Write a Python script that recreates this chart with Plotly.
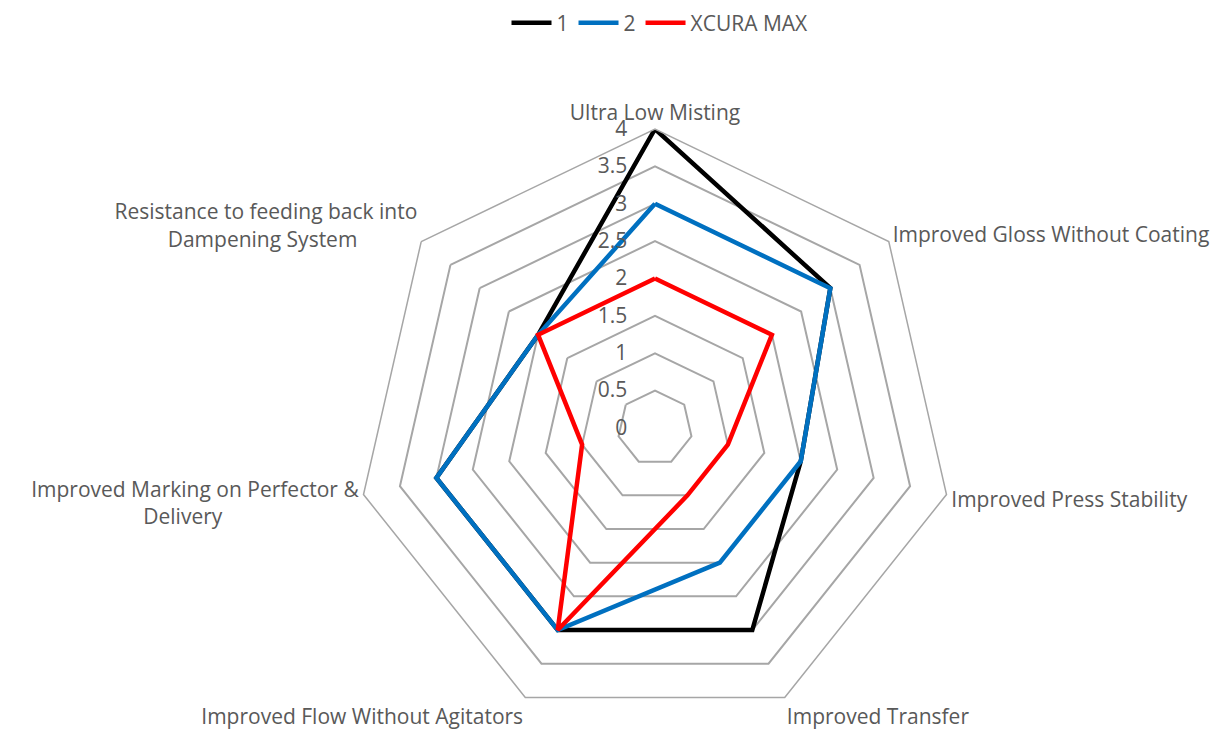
import plotly.graph_objects as go

NB = "\u00a0"
categories = [
    "Ultra Low Misting",
    "Improved Gloss Without Coating",
    "Improved Press Stability",
    "Improved Transfer",
    "Improved Flow Without Agitators",
    "Improved Marking on Perfector &<br>Delivery" + NB * 25,
    "Resistance to feeding back into<br>Dampening System" + NB * 11,
]
series_names = ["1", "2", "XCURA MAX"]
values_1 = [4, 3, 2, 3, 3, 3, 2]
values_2 = [3, 3, 2, 2, 3, 3, 2]
values_xcura = [2, 2, 1, 1, 3, 1, 2]
colors = ["#000000", "#0070C0", "#FF0000"]
radial_ticks = [0, 0.5, 1, 1.5, 2, 2.5, 3, 3.5, 4]

FONT = "Open Sans"
FS = 21
TXT = "#595959"
GRID = "#A6A6A6"

fig = go.Figure()
for name, vals, col in zip(series_names, [values_1, values_2, values_xcura], colors):
    fig.add_trace(go.Scatterpolar(
        r=vals + vals[:1],
        theta=categories + categories[:1],
        mode="lines",
        name=name,
        line=dict(color=col, width=4.5),
    ))

# page has an 8px body margin; positions below are in figure pixels
W, H = 1232, 729
OFF = 8
cx, cy, R = 655 - OFF, 428 - OFF, 299
fig.update_layout(
    width=W, height=H,
    margin=dict(l=0, r=0, t=0, b=0, autoexpand=False),
    paper_bgcolor="white",
    plot_bgcolor="white",
    font=dict(family=FONT, size=FS, color=TXT),
    showlegend=True,
    legend=dict(orientation="h", x=(660 - OFF) / W, xanchor="center",
                y=1 - (23 - OFF) / H, yanchor="middle",
                font=dict(family=FONT, size=FS, color=TXT), itemwidth=40),
    polar=dict(
        domain=dict(x=[(cx - R) / W, (cx + R) / W], y=[(H - cy - R) / H, (H - cy + R) / H]),
        gridshape="linear",
        bgcolor="white",
        radialaxis=dict(
            range=[0, 4], tickvals=radial_ticks, ticktext=[f"{t:g}" for t in radial_ticks],
            angle=90, side="counterclockwise", tickangle=90,
            showline=False, ticks="outside", ticklen=20, tickcolor="rgba(0,0,0,0)",
            gridcolor=GRID, gridwidth=1.5,
            tickfont=dict(family=FONT, size=FS, color=TXT),
        ),
        angularaxis=dict(
            direction="clockwise", rotation=90,
            showgrid=False, showline=True, linecolor=GRID, linewidth=1.5,
            ticks="", tickfont=dict(family=FONT, size=FS, color=TXT),
        ),
    ),
)

fig.write_html("out.html")
